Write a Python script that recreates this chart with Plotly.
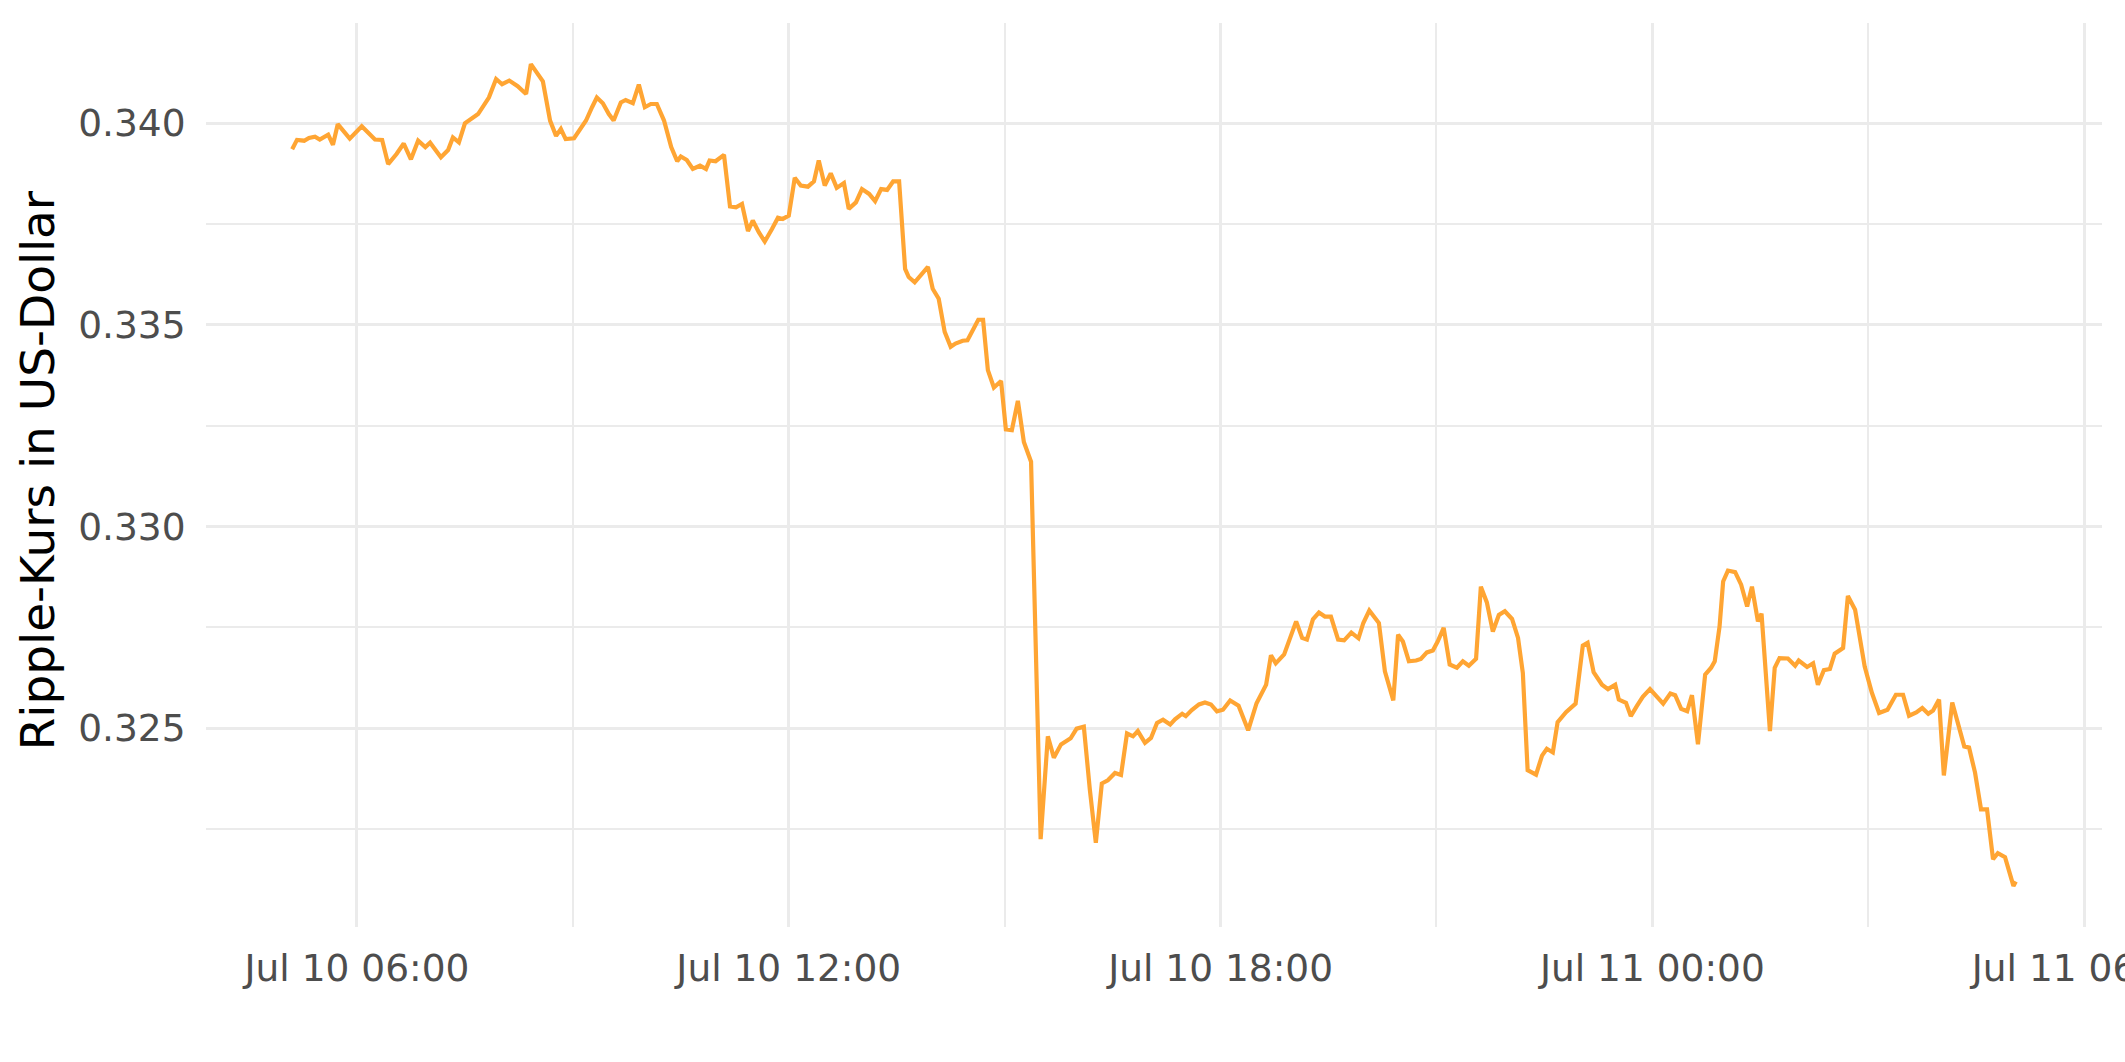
import pandas as pd
import plotly.graph_objects as go

# Ripple (XRP) price
uhrzeit_10 = [
    "05:06", "05:10", "05:16", "05:20", "05:25", "05:29", "05:36", "05:40", "05:44", "05:54",
    "06:04", "06:15", "06:21", "06:26", "06:33", "06:39", "06:45", "06:51", "06:57",
    "07:01", "07:10", "07:16", "07:20", "07:25", "07:30", "07:41", "07:50", "07:56",
    "08:01", "08:07", "08:14", "08:21", "08:25", "08:35", "08:41", "08:46", "08:50", "08:54",
    "09:01", "09:11", "09:16", "09:20", "09:25", "09:30", "09:34", "09:40", "09:44", "09:50", "09:55",
    "10:00", "10:05", "10:10", "10:16", "10:22", "10:27", "10:30", "10:35", "10:40", "10:46", "10:51", "10:54", "10:59",
    "11:06", "11:11", "11:16", "11:21", "11:26", "11:30", "11:35", "11:40", "11:46", "11:51", "11:55",
    "12:00", "12:05", "12:10", "12:16", "12:21", "12:25", "12:30", "12:35", "12:40", "12:46", "12:50", "12:56",
    "13:01", "13:07", "13:12", "13:17", "13:22", "13:27", "13:32", "13:37", "13:40", "13:45", "13:51", "13:56",
    "14:00", "14:05", "14:10", "14:15", "14:19", "14:25", "14:29", "14:38", "14:42", "14:46", "14:51", "14:57",
    "15:01", "15:06", "15:11", "15:16", "15:22", "15:30", "15:36", "15:41", "15:47", "15:51", "15:55",
    "16:00", "16:06", "16:11", "16:16", "16:21", "16:26", "16:32", "16:37", "16:42", "16:47", "16:51", "16:57",
    "17:02", "17:07", "17:12", "17:18", "17:22", "17:28", "17:31", "17:36", "17:42", "17:47", "17:52", "17:57",
    "18:02", "18:08", "18:15", "18:23", "18:30", "18:38", "18:42", "18:46", "18:53",
    "19:03", "19:08", "19:12", "19:17", "19:22", "19:27", "19:32", "19:38", "19:43", "19:49", "19:55", "19:59",
    "20:04", "20:12", "20:17", "20:24", "20:28", "20:32", "20:37", "20:43", "20:47", "20:52", "20:57",
    "21:01", "21:06", "21:11", "21:17", "21:22", "21:27", "21:33", "21:37", "21:42", "21:47", "21:52", "21:57",
    "22:03", "22:08", "22:12", "22:16", "22:23", "22:28", "22:32", "22:37", "22:41", "22:48", "22:56",
    "23:02", "23:06", "23:11", "23:18", "23:23", "23:29", "23:32", "23:38", "23:42", "23:47", "23:52", "23:58",
]
kurs_10 = [
    0.33936, 0.33959, 0.33957, 0.33964, 0.33967, 0.33960, 0.33972, 0.33947, 0.33998, 0.33962,
    0.33993, 0.33960, 0.33959, 0.33899, 0.33924, 0.33950, 0.33911, 0.33957, 0.33941,
    0.33952, 0.33916, 0.33934, 0.33965, 0.33953, 0.34000, 0.34023, 0.34064, 0.34110,
    0.34097, 0.34106, 0.34092, 0.34073, 0.34147, 0.34104, 0.34007, 0.33969, 0.33986, 0.33961,
    0.33963, 0.34007, 0.34040, 0.34064, 0.34050, 0.34023, 0.34007, 0.34052, 0.34058, 0.34050, 0.34096,
    0.34040, 0.34048, 0.34048, 0.34007, 0.33941, 0.33906, 0.33918, 0.33909, 0.33887, 0.33895, 0.33887, 0.33908, 0.33906,
    0.33922, 0.33794, 0.33792, 0.33800, 0.33733, 0.33759, 0.33730, 0.33707, 0.33738, 0.33766, 0.33763,
    0.33771, 0.33865, 0.33846, 0.33843, 0.33856, 0.33908, 0.33846, 0.33876, 0.33840, 0.33852, 0.33788, 0.33804,
    0.33837, 0.33825, 0.33807, 0.33837, 0.33835, 0.33856, 0.33856, 0.33639, 0.33619, 0.33606, 0.33625, 0.33644,
    0.33590, 0.33565, 0.33483, 0.33446, 0.33454, 0.33461, 0.33462, 0.33513, 0.33513, 0.33388, 0.33345, 0.33361,
    0.33241, 0.33239, 0.33312, 0.33210, 0.33161, 0.32225, 0.32480, 0.32427, 0.32460, 0.32468, 0.32475,
    0.32499, 0.32504, 0.32348, 0.32216, 0.32363, 0.32371, 0.32389, 0.32384, 0.32487, 0.32480, 0.32493, 0.32464,
    0.32476, 0.32513, 0.32521, 0.32509, 0.32522, 0.32536, 0.32530, 0.32545, 0.32559, 0.32564, 0.32559, 0.32542,
    0.32546, 0.32569, 0.32556, 0.32495, 0.32562, 0.32608, 0.32681, 0.32661, 0.32683,
    0.32765, 0.32724, 0.32720, 0.32770, 0.32787, 0.32777, 0.32777, 0.32720, 0.32718, 0.32737, 0.32723, 0.32761,
    0.32792, 0.32761, 0.32641, 0.32569, 0.32732, 0.32715, 0.32666, 0.32668, 0.32672, 0.32688, 0.32693,
    0.32715, 0.32749, 0.32658, 0.32650, 0.32666, 0.32655, 0.32672, 0.32851, 0.32812, 0.32740, 0.32781, 0.32790,
    0.32771, 0.32724, 0.32637, 0.32396, 0.32385, 0.32432, 0.32449, 0.32440, 0.32515, 0.32540, 0.32561,
    0.32705, 0.32712, 0.32639, 0.32608, 0.32597, 0.32608, 0.32571, 0.32563, 0.32530, 0.32555, 0.32578, 0.32597,
]
uhrzeit_11 = [
    "00:04", "00:09", "00:15", "00:19", "00:24", "00:29", "00:33", "00:38", "00:44", "00:49", "00:52", "00:56", "00:59",
    "01:03", "01:09", "01:14", "01:19", "01:23", "01:28", "01:31", "01:38", "01:42", "01:46", "01:53", "01:59",
    "02:02", "02:09", "02:14", "02:18", "02:23", "02:28", "02:32", "02:39", "02:43", "02:49", "02:53", "02:57",
    "03:03", "03:09", "03:16", "03:23", "03:29", "03:34", "03:40", "03:45", "03:50", "03:54", "03:59",
    "04:03", "04:10", "04:15", "04:20", "04:24", "04:29", "04:34", "04:39", "04:44", "04:48", "04:54",
    "05:01", "05:03",
]
kurs_11 = [
    0.32578, 0.32561, 0.32586, 0.32582, 0.32548, 0.32542, 0.32582, 0.32460, 0.32633, 0.32650, 0.32666, 0.32752, 0.32864,
    0.32891, 0.32887, 0.32856, 0.32802, 0.32851, 0.32765, 0.32784, 0.32493, 0.32650, 0.32674, 0.32673, 0.32655,
    0.32668, 0.32652, 0.32661, 0.32608, 0.32644, 0.32647, 0.32685, 0.32699, 0.32828, 0.32794, 0.32724, 0.32653,
    0.32588, 0.32538, 0.32546, 0.32583, 0.32583, 0.32531, 0.32539, 0.32550, 0.32536, 0.32544, 0.32571,
    0.32383, 0.32564, 0.32509, 0.32455, 0.32452, 0.32390, 0.32299, 0.32299, 0.32175, 0.32190, 0.32180,
    0.32109, 0.32120,
]

y_ticks = [0.325, 0.330, 0.335, 0.340]

zeit = pd.to_datetime(
    ["2019-07-10 " + t for t in uhrzeit_10] + ["2019-07-11 " + t for t in uhrzeit_11]
)
kurs = kurs_10 + kurs_11

# ggplot-like 5 % expansion of the data range
t_pad = (zeit.max() - zeit.min()) * 0.05
y_pad = (max(kurs) - min(kurs)) * 0.05

grid = "#ebebeb"
text_grey = "#4d4d4d"
font_family = "DejaVu Sans"
tick_size = 37.5

fig = go.Figure(
    go.Scatter(
        x=zeit,
        y=kurs,
        mode="lines",
        line={"color": "#FFA533", "width": 4.2},
        hoverinfo="skip",
    )
)

fig.update_layout(
    width=2125,
    height=1062,
    plot_bgcolor="white",
    paper_bgcolor="white",
    showlegend=False,
    margin={"l": 206, "r": 23, "t": 23, "b": 135},
    font={"family": font_family, "color": text_grey, "size": tick_size},
)

fig.update_xaxes(
    type="date",
    range=[zeit.min() - t_pad, zeit.max() + t_pad],
    tick0="2019-07-10 00:00",
    dtick=6 * 3600 * 1000,
    tickformat="%b %d %H:%M",
    tickfont={"size": tick_size, "color": text_grey, "family": font_family},
    ticks="outside",
    ticklen=8,
    tickcolor="rgba(0,0,0,0)",
    ticklabeloverflow="allow",  # the last label runs off the right edge, as in the original
    automargin=False,
    showgrid=True,
    gridcolor=grid,
    gridwidth=3.2,
    minor={"dtick": 3 * 3600 * 1000, "tick0": "2019-07-10 00:00", "showgrid": True,
           "gridcolor": grid, "gridwidth": 1.6},
    zeroline=False,
    showline=False,
)

fig.update_yaxes(
    range=[min(kurs) - y_pad, max(kurs) + y_pad],
    tickvals=y_ticks,
    tickformat=".3f",
    tickfont={"size": tick_size, "color": text_grey, "family": font_family},
    ticks="outside",
    ticklen=12,
    tickcolor="rgba(0,0,0,0)",
    automargin=False,
    showgrid=True,
    gridcolor=grid,
    gridwidth=3.2,
    minor={"dtick": 0.0025, "tick0": 0.3225, "showgrid": True, "gridcolor": grid, "gridwidth": 1.6},
    zeroline=False,
    showline=False,
)

fig.add_annotation(
    text="Ripple-Kurs in US-Dollar",
    xref="paper",
    yref="paper",
    x=-0.0887,
    y=0.505,
    xanchor="center",
    yanchor="middle",
    textangle=-90,
    showarrow=False,
    font={"size": 47, "color": "black", "family": font_family},
)

# drop the browser's default 8px body margin so the figure sits at the page origin
fig.write_html(
    "out.html",
    config={"displayModeBar": False},
    post_script="document.body.style.margin = '0';",
)
